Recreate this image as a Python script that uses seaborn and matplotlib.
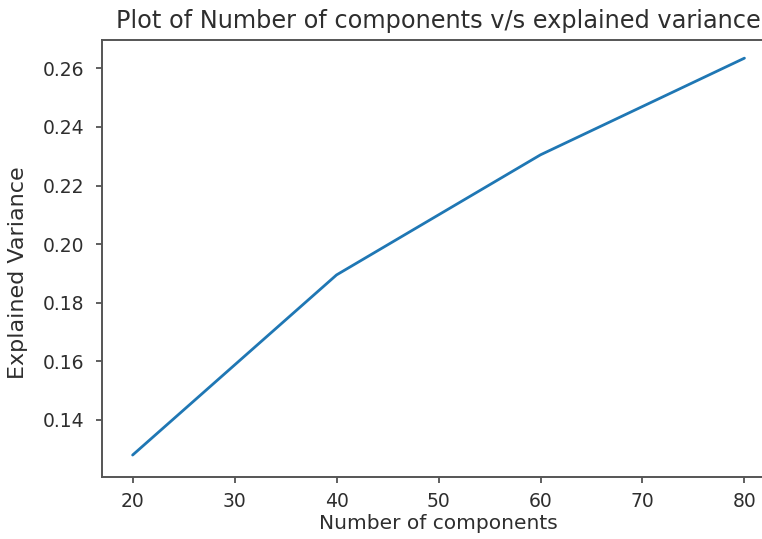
import matplotlib
matplotlib.use("Agg")
import matplotlib.pyplot as plt
import seaborn as sns
import pandas as pd

# Cumulative explained variance for different numbers of components
n_components = [20, 40, 60, 80]
explained_variance = [0.128, 0.1895, 0.2305, 0.2635]
x_ticks = [20, 30, 40, 50, 60, 70, 80]
y_ticks = [0.14, 0.16, 0.18, 0.20, 0.22, 0.24, 0.26]

df = pd.DataFrame({"components": n_components, "variance": explained_variance})

sns.set_style("ticks")
plt.rcParams["font.family"] = ["DejaVu Sans"]
text_col = "#2e2e2e"
plt.rcParams["text.color"] = text_col
plt.rcParams["axes.labelcolor"] = text_col
plt.rcParams["xtick.color"] = text_col
plt.rcParams["ytick.color"] = text_col

fig = plt.figure(figsize=(7.62, 5.39), dpi=100)
ax = fig.add_axes([0.1339, 0.115, 0.8832, 0.8108])

sns.lineplot(data=df, x="components", y="variance", ax=ax,
             color="#1f77b4", linewidth=2.0)

ax.set_xticks(x_ticks)
ax.set_yticks(y_ticks)
ax.set_yticklabels([f"{v:.2f}" for v in y_ticks])
ax.set_xlim(17, 83)
ax.set_ylim(0.1205, 0.2697)

ax.tick_params(labelsize=13.5, length=4.5, width=1.2, color="#444444")
ax.tick_params(axis="x", pad=6)
ax.tick_params(axis="y", pad=8)
for s in ax.spines.values():
    s.set_color("#555555")
    s.set_linewidth(1.4)

ax.set_xlabel("Number of components", fontsize=14.5)
ax.set_ylabel("Explained Variance", fontsize=16)
ax.xaxis.set_label_coords(0.5, -0.0847)
ax.yaxis.set_label_coords(-0.110, 0.467)
ax.set_title("Plot of Number of components v/s explained variance",
             fontsize=17.3, y=1.027, pad=0)

fig.savefig("out.png", dpi=100)
